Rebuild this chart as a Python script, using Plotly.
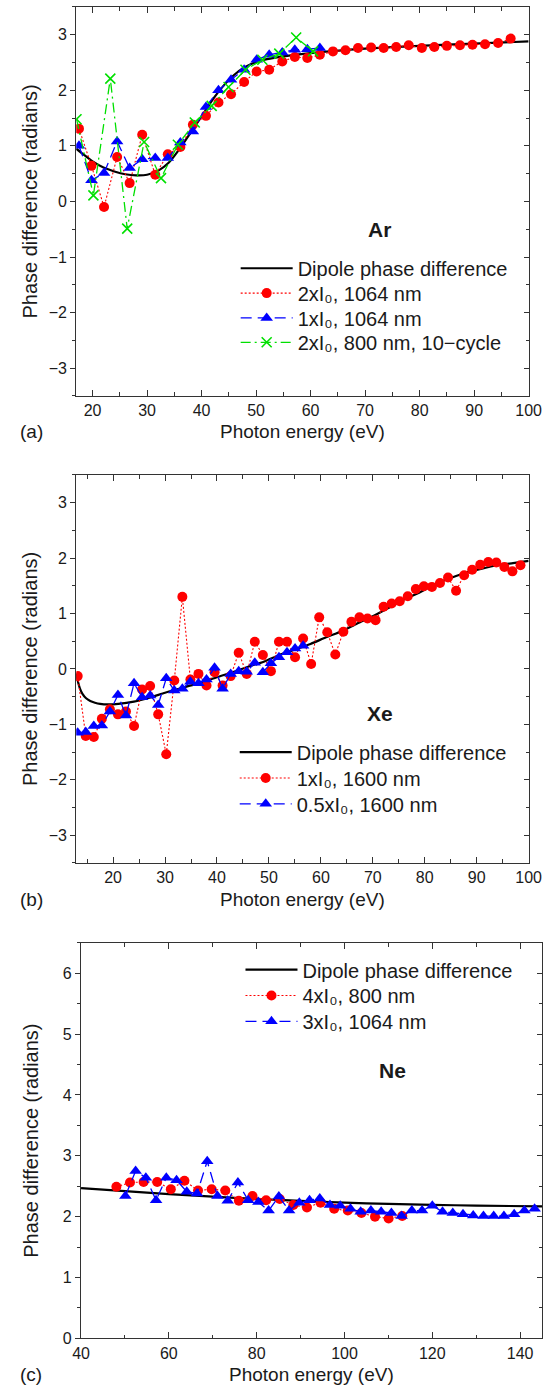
import plotly.graph_objects as go

W, H = 557, 1395
FONT = "Liberation Sans, Arial, Helvetica, sans-serif"
TXT = "#1a1a1a"

# ---------------- Panel (a): Ar ----------------
ar_dip_x = [17, 18, 20, 22, 24, 26, 28, 30, 32, 34, 36, 38, 40, 42, 44, 46, 48, 50, 52, 55, 60, 70, 80, 90, 100]
ar_dip_y = [0.95, 0.87, 0.72, 0.61, 0.54, 0.49, 0.47, 0.48, 0.55, 0.70, 0.95, 1.24, 1.53, 1.83, 2.08, 2.28,
            2.42, 2.51, 2.56, 2.61, 2.67, 2.75, 2.80, 2.84, 2.88]

ar_red_x = [17.5, 19.8, 22.1, 24.5, 26.8, 29.1, 31.5, 33.8, 36.1, 38.4, 40.8, 43.1, 45.4, 47.8, 50.1, 52.4,
            54.8, 57.1, 59.4, 61.7, 64.1, 66.4, 68.7, 71.1, 73.4, 75.7, 78.0, 80.4, 82.7, 85.0, 87.4, 89.7,
            92.0, 94.4, 96.7]
ar_red_y = [1.31, 0.64, -0.10, 0.80, 0.33, 1.20, 0.48, 0.85, 0.98, 1.38, 1.54, 1.78, 1.93, 2.15, 2.34, 2.37,
            2.52, 2.60, 2.58, 2.64, 2.70, 2.72, 2.76, 2.77, 2.76, 2.78, 2.81, 2.76, 2.78, 2.80, 2.81, 2.82,
            2.83, 2.85, 2.93]

ar_blue_x = [17.5, 19.8, 22.1, 24.5, 26.8, 29.1, 31.5, 33.8, 36.1, 38.4, 40.8, 43.1, 45.4, 47.8, 50.1, 52.4,
             54.8, 57.1, 59.4, 61.7]
ar_blue_y = [1.00, 0.38, 0.51, 1.08, 0.60, 0.76, 0.78, 0.78, 1.06, 1.26, 1.70, 2.00, 2.19, 2.37, 2.55, 2.64,
             2.68, 2.73, 2.74, 2.76]

ar_green_x = [17.05, 20.15, 23.25, 26.35, 29.45, 32.55, 35.65, 38.75, 41.85, 44.95, 48.05, 51.15, 54.25, 57.35, 60.45]
ar_green_y = [1.48, 0.11, 2.21, -0.49, 1.07, 0.42, 1.02, 1.42, 1.72, 2.06, 2.37, 2.55, 2.66, 2.95, 2.70]

# ---------------- Panel (b): Xe ----------------
xe_dip_x = [12.9, 13.2, 13.6, 14.1, 14.8, 15.6, 16.5, 17.5, 19, 21, 24, 27, 30, 33, 36, 40, 43, 46, 49, 52,
            55, 58, 61, 64, 67, 70, 73, 76, 79, 82, 85, 88, 91, 94, 97, 100]
xe_dip_y = [-0.08, -0.22, -0.35, -0.45, -0.53, -0.58, -0.61, -0.63, -0.64, -0.63, -0.59, -0.52, -0.43, -0.35,
            -0.27, -0.15, -0.06, 0.04, 0.13, 0.25, 0.35, 0.45, 0.57, 0.68, 0.82, 0.95, 1.10, 1.25, 1.38, 1.53,
            1.64, 1.74, 1.81, 1.87, 1.91, 1.95]

xe_red_x = [13.18, 14.73, 16.28, 17.83, 19.38, 20.93, 22.48, 24.03, 25.58, 27.13, 28.68, 30.23, 31.78, 33.33,
            34.88, 36.43, 37.98, 39.53, 41.08, 42.63, 44.18, 45.73, 47.28, 48.83, 50.38, 51.93, 53.48, 55.03,
            56.58, 58.13, 59.68, 61.23, 62.78, 64.33, 65.88, 67.43, 68.98, 70.53, 72.08, 73.63, 75.18, 76.73,
            78.28, 79.83, 81.38, 82.93, 84.48, 86.03, 87.58, 89.13, 90.68, 92.23, 93.78, 95.33, 96.88, 98.43]
xe_red_y = [-0.13, -1.21, -1.23, -0.90, -0.73, -0.82, -0.77, -1.03, -0.37, -0.31,
            -0.82, -1.54, -0.21, 1.30, -0.19, -0.09, -0.30, -0.06, -0.30, -0.13,
            0.29, -0.09, 0.49, 0.25, -0.04, 0.49, 0.49, 0.21, 0.55, 0.09,
            0.93, 0.66, 0.26, 0.67, 0.85, 0.93, 0.91, 0.88, 1.12, 1.18,
            1.22, 1.31, 1.44, 1.49, 1.48, 1.55, 1.65, 1.41, 1.69, 1.79,
            1.88, 1.93, 1.92, 1.84, 1.76, 1.87]

xe_blue_x = [13.18, 14.73, 16.28, 17.83, 19.38, 20.93, 22.48, 24.03, 25.58, 27.13, 28.68, 30.23, 31.78, 33.33,
             34.88, 36.43, 37.98, 39.53, 41.08, 42.63, 44.18, 45.73, 47.28, 48.83, 50.38, 51.93, 53.48, 55.03,
             56.58]
xe_blue_y = [-1.15, -1.14, -1.03, -1.02, -0.77, -0.47, -0.84, -0.26, -0.51, -0.48, -0.65, -0.17, -0.39, -0.36,
             -0.23, -0.26, -0.19, 0.02, -0.36, -0.09, -0.04, -0.05, 0.11, -0.06, 0.10, 0.21, 0.30, 0.37, 0.42]

# ---------------- Panel (c): Ne ----------------
ne_dip_x = [40, 50, 60, 70, 80, 90, 100, 110, 120, 130, 145]
ne_dip_y = [2.47, 2.42, 2.37, 2.33, 2.29, 2.26, 2.23, 2.21, 2.195, 2.18, 2.17]

ne_red_x = [48.05, 51.15, 54.25, 57.35, 60.45, 63.55, 66.65, 69.75, 72.85, 75.95, 79.05, 82.15, 85.25, 88.35,
            91.45, 94.55, 97.65, 100.75, 103.85, 106.95, 110.05, 113.15]
ne_red_y = [2.49, 2.56, 2.57, 2.57, 2.45, 2.59, 2.43, 2.45, 2.43, 2.26, 2.34, 2.27, 2.29, 2.19, 2.15, 2.23,
            2.13, 2.10, 2.06, 2.00, 1.97, 2.01]

ne_blue_x = [50.10, 52.43, 54.76, 57.09, 59.42, 61.75, 64.08, 66.41, 68.74, 71.07, 73.40, 75.73, 78.06, 80.39,
             82.72, 85.05, 87.38, 89.71, 92.04, 94.37, 96.70, 99.03, 101.36, 103.69, 106.02, 108.35, 110.68,
             113.01, 115.34, 117.67, 120.00, 122.33, 124.66, 126.99, 129.32, 131.65, 133.98, 136.31, 138.64,
             140.97, 143.30]
ne_blue_y = [2.34, 2.75, 2.64, 2.27, 2.64, 2.60, 2.41, 2.38, 2.91, 2.34, 2.26, 2.56, 2.27, 2.24, 2.10, 2.33,
             2.10, 2.23, 2.27, 2.30, 2.19, 2.18, 2.13, 2.08, 2.10, 2.08, 2.06, 2.01, 2.10, 2.10, 2.18, 2.08,
             2.06, 2.04, 2.02, 2.01, 2.01, 2.01, 2.04, 2.10, 2.13]

ne_yticks = [0, 1, 2, 3, 4, 5, 6]
ax_yticks = [-3, -2, -1, 0, 1, 2, 3]

x_title = "Photon energy (eV)"
y_title = "Phase difference (radians)"
I0 = "xI\u2080"


def xp(px):
    return px / W


def yp(px):
    return 1 - px / H


RED = "#ff0000"
BLUE = "#0000ff"
GREEN = "#00e000"

fig = go.Figure()
legend_rows = []  # (legend id, x px, y px)


def add(tr, leg, lx, ly):
    tr.update(legend=leg)
    fig.add_trace(tr)
    legend_rows.append((leg, lx, ly))


def dipole(x, y, ax):
    return go.Scatter(x=x, y=y, mode="lines", name="Dipole phase difference",
                      line=dict(color="black", width=2.2, shape="spline", smoothing=0.6),
                      xaxis=ax[0], yaxis=ax[1])


def red(x, y, name, ax):
    return go.Scatter(x=x, y=y, mode="lines+markers", name=name,
                      line=dict(color=RED, width=1.1, dash="2px,2px"),
                      marker=dict(symbol="circle", size=10, color=RED),
                      xaxis=ax[0], yaxis=ax[1])


def blue(x, y, name, ax):
    return go.Scatter(x=x, y=y, mode="lines+markers", name=name,
                      line=dict(color=BLUE, width=1.3, dash="11px,6px"),
                      marker=dict(symbol="triangle-up", size=11, color=BLUE),
                      xaxis=ax[0], yaxis=ax[1])


# Panel a
add(dipole(ar_dip_x, ar_dip_y, ("x", "y")), "legend", 236, 270)
add(red(ar_red_x, ar_red_y, "2" + I0 + ", 1064 nm", ("x", "y")), "legend2", 236, 295)
add(blue(ar_blue_x, ar_blue_y, "1" + I0 + ", 1064 nm", ("x", "y")), "legend3", 236, 320)
add(go.Scatter(x=ar_green_x, y=ar_green_y, mode="lines+markers", name="2" + I0 + ", 800 nm, 10\u2212cycle",
               line=dict(color=GREEN, width=1.3, dash="10px,4px,2px,4px"),
               marker=dict(symbol="x-thin", size=10, line=dict(color=GREEN, width=1.6)),
               xaxis="x", yaxis="y"), "legend4", 236, 344.5)
# Panel b
add(dipole(xe_dip_x, xe_dip_y, ("x2", "y2")), "legend5", 235, 757)
add(red(xe_red_x, xe_red_y, "1" + I0 + ", 1600 nm", ("x2", "y2")), "legend6", 235, 783)
add(blue(xe_blue_x, xe_blue_y, "0.5" + I0 + ", 1600 nm", ("x2", "y2")), "legend7", 235, 809)
# Panel c
add(dipole(ne_dip_x, ne_dip_y, ("x3", "y3")), "legend8", 241, 976)
add(red(ne_red_x, ne_red_y, "4" + I0 + ", 800 nm", ("x3", "y3")), "legend9", 241, 1002)
add(blue(ne_blue_x, ne_blue_y, "3" + I0 + ", 1064 nm", ("x3", "y3")), "legend10", 241, 1028)

# dummy traces so right-side overlay axes get drawn
for xa, ya in [("x", "y4"), ("x2", "y5"), ("x3", "y6")]:
    fig.add_trace(go.Scatter(x=[None], y=[None], mode="markers", showlegend=False, hoverinfo="skip",
                             xaxis=xa, yaxis=ya))

panels = [
    dict(xpx=(70, 541), ypx=(7, 398.5), xr=[17, 100], yr=[-3.5, 3.5], xd=10, xm=5, yt=ax_yticks),
    dict(xpx=(70, 541), ypx=(478, 868.5), xr=[12.9, 100], yr=[-3.5, 3.5], xd=10, xm=5, yt=ax_yticks),
    dict(xpx=(75, 555), ypx=(949, 1347), xr=[40, 145], yr=[0, 6.5], xd=20, xm=10, yt=ne_yticks),
]

tickfont = dict(family=FONT, size=16, color=TXT)
layout = {}
for i, p in enumerate(panels):
    n = "" if i == 0 else str(i + 1)
    xdom = [xp(p["xpx"][0]), xp(p["xpx"][1])]
    ydom = [yp(p["ypx"][1]), yp(p["ypx"][0])]
    layout["xaxis" + n] = dict(domain=xdom, range=p["xr"], anchor="y" + n, showline=True, linecolor="#333",
                               linewidth=1.3, mirror="ticks", ticks="inside", ticklen=6, tickwidth=1.2,
                               tickcolor="#333", dtick=p["xd"], tick0=0, showgrid=False, zeroline=False,
                               tickfont=tickfont,
                               minor=dict(dtick=p["xm"], tick0=0, ticks="inside", ticklen=3.5, tickwidth=1,
                                          tickcolor="#333", showgrid=False))
    layout["yaxis" + n] = dict(domain=ydom, range=p["yr"], anchor="x" + n, showline=True, linecolor="#333",
                               linewidth=1.3, mirror=True, ticks="outside", ticklen=5, tickwidth=1.2,
                               tickcolor="#333", tickmode="array", tickvals=p["yt"], showgrid=False,
                               zeroline=False, tickfont=tickfont,
                               minor=dict(dtick=0.5, tick0=0, ticks="outside", ticklen=3, tickwidth=1,
                                          tickcolor="#333", showgrid=False))
    layout["yaxis" + str(i + 4)] = dict(overlaying="y" + n, side="right", anchor="x" + n, range=p["yr"],
                                        showline=False, ticks="inside", ticklen=5, tickwidth=1.2,
                                        tickcolor="#333", tickmode="array", tickvals=p["yt"],
                                        showticklabels=False, showgrid=False, zeroline=False,
                                        minor=dict(dtick=0.5, tick0=0, ticks="inside", ticklen=3,
                                                   tickwidth=1, tickcolor="#333", showgrid=False))

legfont = dict(family=FONT, size=20, color=TXT)
for leg, lx, ly in legend_rows:
    layout[leg] = dict(x=xp(lx), y=yp(ly), xanchor="left", yanchor="middle", bgcolor="rgba(0,0,0,0)",
                       borderwidth=0, font=legfont, itemwidth=52, tracegroupgap=0)

annotations = []


def ann(text, x, y, size=19, bold=False, angle=0):
    annotations.append(dict(text=("<b>%s</b>" % text) if bold else text, x=xp(x), y=yp(y), xref="paper",
                            yref="paper", xanchor="center", yanchor="middle", showarrow=False, textangle=angle,
                            font=dict(family=FONT, size=size, color=TXT)))


for p, lab, tl, gas, gpos in zip(panels, ["(a)", "(b)", "(c)"], [434, 905, 1383], ["Ar", "Xe", "Ne"],
                                 [(386, 231), (386, 718), (399, 1077)]):
    cx = (p["xpx"][0] + p["xpx"][1]) / 2
    cy = (p["ypx"][0] + p["ypx"][1]) / 2
    ann(x_title, cx, tl)
    ann(y_title, 22, cy, size=20, angle=-90)
    ann(lab, 23, tl)
    ann(gas, gpos[0], gpos[1], size=21, bold=True)

fig.update_layout(width=W, height=H, margin=dict(l=0, r=0, t=0, b=0), paper_bgcolor="white",
                  plot_bgcolor="white", annotations=annotations, **layout)

fig.write_html("out.html", config={"displayModeBar": False},
               post_script="document.body.style.margin='0px';")
